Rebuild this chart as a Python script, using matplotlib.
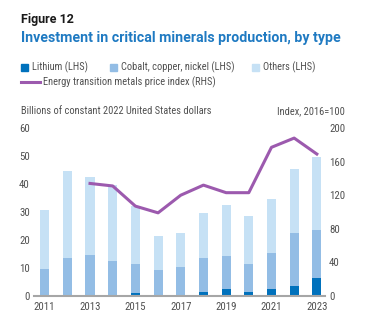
import numpy as np
import matplotlib.pyplot as plt
from matplotlib.patches import Rectangle
from matplotlib.lines import Line2D

years = np.arange(2011, 2024)
lithium = [0.5, 0.5, 0.5, 0.5, 0.9, 0.5, 0.5, 1.4, 2.5, 1.4, 2.5, 3.6, 6.4]
cobalt_copper_nickel = [9.1, 13.1, 14.1, 12.0, 10.5, 8.8, 9.9, 12.2, 11.8, 10.0, 12.9, 18.9, 17.2]
others = [21.1, 31.0, 27.8, 27.1, 20.8, 12.1, 12.1, 16.0, 18.2, 17.2, 19.2, 22.9, 26.0]
price_years = np.arange(2013, 2024)
price_index = [134, 131, 107, 99, 120, 132, 123, 123, 177, 188, 169]

C_LI = "#0071bc"
C_CCN = "#93bde5"
C_OTH = "#c6e1f5"
C_LINE = "#9c5aae"
C_TXT = "#505050"

plt.rcParams["font.family"] = ["Roboto Condensed", "Roboto", "DejaVu Sans"]
FS = 7.5

fig = plt.figure(figsize=(3.9, 3.24), dpi=100)
ax = fig.add_axes([34 / 390, 28 / 324, 291 / 390, 168 / 324])
ax2 = ax.twinx()

w = 0.4
li = np.array(lithium)
ccn = np.array(cobalt_copper_nickel)
oth = np.array(others)
ax.bar(years, li, w, color=C_LI, zorder=2)
ax.bar(years, ccn, w, bottom=li, color=C_CCN, zorder=2)
ax.bar(years, oth, w, bottom=li + ccn, color=C_OTH, zorder=2)

ax2.plot(price_years, price_index, color=C_LINE, lw=2.2, solid_joinstyle="round")

ax.set_xlim(2010.53, 2023.36)
ax.set_ylim(0, 60)
ax2.set_ylim(0, 200)
ax.set_yticks(range(0, 61, 10))
ax2.set_yticks(range(0, 201, 40))
ax.set_xticks(range(2011, 2024, 2))

for a in (ax, ax2):
    for s in a.spines.values():
        s.set_visible(False)
    a.tick_params(length=0, labelsize=7.8, colors=C_TXT, pad=3)
ax.spines["bottom"].set_visible(True)
ax.spines["bottom"].set_color("#a6a6a6")
ax.spines["bottom"].set_linewidth(1.5)
ax.tick_params(axis="x", pad=4)

fig.text(21 / 390, 1 - 13 / 324, "Figure 12", fontsize=9, fontweight="bold",
         color="#1a1a1a", va="top", family=["Roboto", "DejaVu Sans"])
fig.text(21 / 390, 1 - 31 / 324, "Investment in critical minerals production, by type",
         fontsize=10.2, fontweight="bold", color="#1f7ac2", va="top",
         family=["Roboto", "DejaVu Sans"])

# legend drawn by hand in figure pixel coordinates
def px(x, y):
    return x / 390, 1 - y / 324

for x0, col, label in [(21, C_LI, "Lithium (LHS)"),
                       (110, C_CCN, "Cobalt, copper, nickel (LHS)"),
                       (252, C_OTH, "Others (LHS)")]:
    fig.patches.append(Rectangle(px(x0, 71), 7 / 390, 7 / 324, color=col,
                                 transform=fig.transFigure))
    fig.text(*px(x0 + 11, 67.5), label, fontsize=FS, color=C_TXT, va="center")
fig.lines.append(Line2D([21 / 390, 40 / 390], [1 - 82 / 324] * 2, color=C_LINE,
                        lw=2.2, transform=fig.transFigure))
fig.text(*px(43, 82), "Energy transition metals price index (RHS)", fontsize=FS,
         color=C_TXT, va="center")

fig.text(*px(21, 111), "Billions of constant 2022 United States dollars", fontsize=FS,
         color=C_TXT, va="center")
fig.text(*px(345, 111), "Index, 2016=100", fontsize=FS, color=C_TXT, va="center",
         ha="right")

fig.savefig("out.png", dpi=100)
